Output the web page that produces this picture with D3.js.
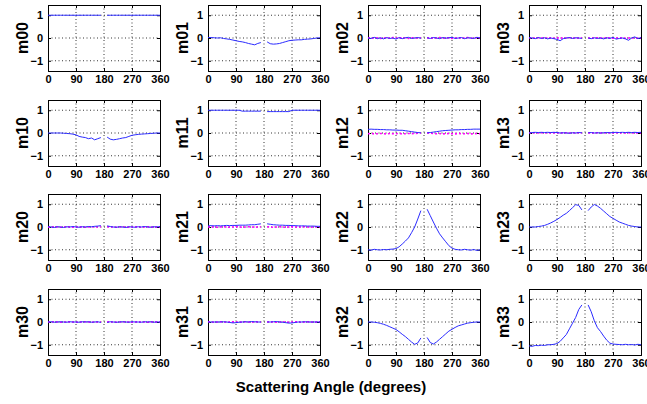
<!DOCTYPE html>
<html>
<head>
<meta charset="utf-8">
<script src="https://cdn.jsdelivr.net/npm/d3@7/dist/d3.min.js"></script>
<style>
  body { margin: 0; background: #fff; }
  svg { display: block; font-family: "Liberation Sans", Arial, Helvetica, sans-serif; }
</style>
</head>
<body>
<svg id="chart" width="647" height="404"></svg>
<script>
// scattering angle samples (deg); 180 is the gap
var angles = [0, 10, 20, 30, 40, 50, 60, 70, 80, 90, 100, 110, 120, 130, 140, 150, 160, 170,
  180, 190, 200, 210, 220, 230, 240, 250, 260, 270, 280, 290, 300, 310, 320, 330, 340, 350, 360];

var xTicks = [0, 90, 180, 270, 360];
var yTicks = [-1, 0, 1];
var yTickLabels = ['\u22121', '0', '1'];

var names = ['m00', 'm01', 'm02', 'm03', 'm10', 'm11', 'm12', 'm13',
  'm20', 'm21', 'm22', 'm23', 'm30', 'm31', 'm32', 'm33'];

// measured (blue)
var m00 = [1, 1, 1, 1, 1, 1, 1, 1, 1, 1, 1, 1, 1, 1, 1, 1, 1, 1, null, 1, 1, 1, 1, 1, 1, 1, 1, 1, 1, 1, 1, 1, 1, 1, 1, 1, 1];
var m01 = [0.02, 0.02, 0.01, 0.0, 0.01, -0.02, -0.04, -0.06, -0.09, -0.12, -0.15, -0.17, -0.2, -0.24, -0.27, -0.3, -0.24, -0.2,
  null, -0.17, -0.25, -0.27, -0.26, -0.24, -0.2, -0.16, -0.12, -0.1, -0.09, -0.08, -0.08, -0.06, -0.05, -0.04, -0.02, 0.0, 0.01];
var m02 = [0.0, -0.02, 0.03, -0.03, 0.01, -0.04, 0.02, -0.02, 0.0, -0.05, 0.02, -0.03, 0.01, 0.03, -0.02, 0.0, 0.02, -0.01,
  null, 0.01, -0.02, 0.02, 0.0, -0.03, 0.02, -0.01, 0.01, 0.03, -0.02, 0.0, 0.02, -0.03, 0.01, 0.0, -0.02, 0.03, 0.0];
var m03 = [0.02, 0.0, -0.03, 0.02, -0.02, 0.01, -0.04, 0.0, -0.03, -0.06, -0.12, -0.03, 0.0, 0.02, -0.02, 0.01, 0.0, -0.02,
  null, 0.0, -0.03, 0.01, -0.02, 0.0, -0.04, 0.01, -0.02, 0.03, -0.05, -0.02, 0.0, -0.04, -0.1, 0.0, 0.05, -0.03, 0.02];
var m10 = [0.0, 0.0, 0.0, 0.0, 0.0, -0.01, -0.02, -0.03, -0.05, -0.08, -0.15, -0.18, -0.2, -0.25, -0.22, -0.3, -0.25, -0.2,
  null, -0.18, -0.27, -0.3, -0.28, -0.25, -0.22, -0.2, -0.15, -0.1, -0.08, -0.06, -0.05, -0.04, -0.03, -0.02, -0.01, 0.0, 0.0];
var m11 = [1.0, 1.0, 1.0, 1.0, 1.0, 1.0, 1.0, 1.0, 1.0, 1.0, 1.0, 0.96, 0.96, 0.96, 0.96, 0.96, 0.96, 0.96,
  null, 0.94, 0.94, 0.94, 0.94, 0.94, 0.94, 0.94, 0.94, 1.0, 1.0, 1.0, 1.0, 1.0, 1.0, 1.0, 1.0, 1.0, 1.0];
var m12 = [0.16, 0.17, 0.16, 0.16, 0.15, 0.15, 0.14, 0.14, 0.13, 0.13, 0.12, 0.12, 0.1, 0.08, 0.06, 0.04, 0.02, 0.01,
  null, 0.01, 0.02, 0.04, 0.06, 0.08, 0.1, 0.11, 0.12, 0.13, 0.14, 0.14, 0.15, 0.15, 0.16, 0.16, 0.17, 0.17, 0.17];
var m13 = [0.0, 0.02, 0.03, 0.02, 0.03, 0.02, 0.03, 0.02, 0.03, 0.02, 0.0, 0.01, 0.0, -0.01, 0.01, 0.0, 0.02, 0.01,
  null, 0.01, 0.02, 0.0, 0.01, 0.0, 0.01, 0.02, 0.01, 0.02, 0.03, 0.02, 0.03, 0.02, 0.03, 0.02, 0.03, 0.02, 0.03];
var m20 = [0.02, 0.0, -0.02, 0.01, 0.0, -0.02, 0.01, 0.0, 0.02, 0.0, -0.01, 0.01, 0.0, 0.02, 0.01, 0.03, 0.04, 0.06,
  null, 0.05, 0.02, 0.0, -0.01, 0.01, 0.0, -0.02, 0.01, 0.0, -0.01, 0.01, 0.0, 0.02, 0.0, -0.01, 0.01, 0.0, 0.02];
var m21 = [0.05, 0.06, 0.05, 0.06, 0.05, 0.06, 0.07, 0.06, 0.07, 0.07, 0.08, 0.08, 0.08, 0.09, 0.1, 0.1, 0.12, 0.14,
  null, 0.14, 0.12, 0.1, 0.09, 0.08, 0.08, 0.07, 0.07, 0.06, 0.06, 0.05, 0.05, 0.05, 0.04, 0.04, 0.04, 0.03, 0.03];
var m22 = [-1.0, -1.02, -0.98, -1.0, -1.01, -0.99, -1.0, -0.98, -0.97, -0.95, -0.87, -0.75, -0.62, -0.48, -0.25, 0.0, 0.35, 0.72,
  null, 0.78, 0.5, 0.22, -0.05, -0.3, -0.48, -0.65, -0.82, -0.93, -0.98, -1.0, -1.01, -0.98, -1.0, -1.02, -0.99, -1.03, -1.0];
var m23 = [0.0, 0.0, 0.0, 0.02, 0.04, 0.07, 0.12, 0.18, 0.25, 0.33, 0.42, 0.52, 0.6, 0.72, 0.85, 0.98, 0.95, 0.75,
  null, 0.72, 0.88, 0.99, 0.92, 0.82, 0.7, 0.58, 0.46, 0.38, 0.3, 0.22, 0.17, 0.12, 0.07, 0.04, 0.02, 0.0, 0.0];
var m30 = [0.0, 0.01, -0.01, 0.0, 0.01, 0.0, -0.01, 0.01, 0.0, 0.0, -0.01, 0.01, 0.0, 0.01, -0.01, 0.0, 0.01, -0.02,
  null, -0.02, 0.01, 0.0, -0.01, 0.0, 0.01, 0.0, -0.01, 0.01, 0.0, 0.0, -0.01, 0.01, 0.0, 0.01, -0.01, 0.0, 0.0];
var m31 = [0.0, 0.0, 0.0, 0.0, 0.0, 0.01, 0.0, -0.02, -0.04, -0.03, -0.01, 0.0, 0.01, 0.0, 0.02, 0.01, 0.0, 0.0,
  null, 0.0, 0.0, 0.01, 0.02, 0.0, -0.01, -0.03, -0.05, -0.04, -0.02, 0.0, 0.0, 0.01, 0.0, 0.0, 0.0, 0.0, 0.0];
var m32 = [0.0, 0.0, -0.01, -0.03, -0.06, -0.1, -0.15, -0.21, -0.27, -0.33, -0.43, -0.54, -0.64, -0.76, -0.88, -0.98, -0.92, -0.7,
  null, -0.68, -0.9, -0.97, -0.88, -0.76, -0.64, -0.52, -0.4, -0.32, -0.24, -0.17, -0.13, -0.09, -0.05, -0.03, -0.01, 0.0, 0.0];
var m33 = [-1.05, -1.07, -1.03, -1.04, -1.02, -1.03, -1.0, -1.0, -0.98, -0.95, -0.85, -0.7, -0.55, -0.3, -0.05, 0.2, 0.55, 0.75,
  null, 0.75, 0.45, 0.05, -0.25, -0.42, -0.62, -0.8, -0.93, -0.97, -0.98, -0.99, -1.0, -0.98, -1.0, -0.99, -1.01, -0.98, -1.0];

// model (magenta dotted), only where the element should vanish
var z02 = [0.0, 0.02, -0.01, 0.01, -0.02, 0.0, 0.01, -0.01, 0.02, 0.0, -0.01, 0.01, 0.0, -0.02, 0.01, 0.0, -0.01, 0.01,
  null, 0.0, 0.01, -0.01, 0.0, 0.02, -0.01, 0.0, 0.01, -0.02, 0.0, 0.01, -0.01, 0.0, 0.02, -0.01, 0.0, 0.01, 0.0];
var z03 = [0.01, -0.01, 0.0, 0.01, 0.0, -0.01, 0.01, 0.0, -0.01, 0.0, 0.01, -0.01, 0.0, 0.01, 0.0, -0.01, 0.0, 0.01,
  null, 0.0, -0.01, 0.0, 0.01, 0.0, -0.01, 0.01, 0.0, -0.01, 0.0, 0.01, 0.0, -0.01, 0.0, 0.01, -0.01, 0.0, 0.01];
var z12 = [-0.03, -0.02, -0.04, -0.03, -0.02, -0.03, -0.04, -0.02, -0.03, -0.03, -0.02, -0.04, -0.03, -0.02, -0.03, -0.02, -0.01, 0.0,
  null, 0.0, -0.01, -0.02, -0.03, -0.02, -0.04, -0.03, -0.02, -0.03, -0.04, -0.02, -0.03, -0.03, -0.02, -0.04, -0.03, -0.02, -0.03];
var z13 = [0.01, 0.0, 0.01, 0.0, 0.01, 0.0, 0.01, 0.0, 0.01, 0.0, 0.01, 0.0, 0.01, 0.0, 0.01, 0.0, 0.01, 0.0,
  null, 0.0, 0.01, 0.0, 0.01, 0.0, 0.01, 0.0, 0.01, 0.0, 0.01, 0.0, 0.01, 0.0, 0.01, 0.0, 0.01, 0.0, 0.01];
var z20 = [0.0, -0.01, 0.01, 0.0, -0.01, 0.0, 0.01, 0.0, -0.01, 0.0, 0.01, 0.0, -0.01, 0.0, 0.01, 0.0, 0.0, 0.01,
  null, 0.01, 0.0, 0.0, -0.01, 0.0, 0.01, 0.0, -0.01, 0.0, 0.01, 0.0, -0.01, 0.0, 0.01, 0.0, -0.01, 0.0, 0.0];
var z21 = [0.0, 0.01, 0.0, -0.01, 0.0, 0.01, 0.0, -0.01, 0.0, 0.01, 0.0, -0.01, 0.0, 0.01, 0.0, -0.01, 0.0, 0.01,
  null, 0.01, 0.0, -0.01, 0.0, 0.01, 0.0, -0.01, 0.0, 0.01, 0.0, -0.01, 0.0, 0.01, 0.0, -0.01, 0.0, 0.01, 0.0];
var z30 = [0.0, 0.0, 0.01, 0.0, -0.01, 0.0, 0.0, 0.01, 0.0, -0.01, 0.0, 0.0, 0.01, 0.0, -0.01, 0.0, 0.0, 0.01,
  null, 0.01, 0.0, 0.0, -0.01, 0.0, 0.01, 0.0, 0.0, -0.01, 0.0, 0.01, 0.0, 0.0, -0.01, 0.0, 0.01, 0.0, 0.0];
var z31 = [0.01, 0.0, -0.01, 0.0, 0.01, 0.0, -0.01, 0.0, 0.01, 0.0, -0.01, 0.0, 0.01, 0.0, -0.01, 0.0, 0.01, 0.0,
  null, 0.0, 0.01, 0.0, -0.01, 0.0, 0.01, 0.0, -0.01, 0.0, 0.01, 0.0, -0.01, 0.0, 0.01, 0.0, -0.01, 0.0, 0.01];

var measured = {
  m00: m00, m01: m01, m02: m02, m03: m03, m10: m10, m11: m11, m12: m12, m13: m13,
  m20: m20, m21: m21, m22: m22, m23: m23, m30: m30, m31: m31, m32: m32, m33: m33
};
var model = { m02: z02, m03: z03, m12: z12, m13: z13, m20: z20, m21: z21, m30: z30, m31: z31 };

var svg = d3.select('#chart');

var colLeft = [48, 208, 368, 529];
var rowTop = [5, 100, 194, 289];
var panelW = 112;
var panelH = 66;

names.forEach(function (name, i) {
  var left = colLeft[i % 4];
  var top = rowTop[Math.floor(i / 4)];

  var x = d3.scaleLinear().domain([0, 360]).range([left, left + panelW]);
  var y = d3.scaleLinear().domain([-1.45, 1.45]).range([top + panelH, top]);

  var g = svg.append('g').attr('class', 'panel');

  // dotted grid
  g.selectAll('.vgrid')
    .data(xTicks.slice(1, -1))
    .enter().append('line')
    .attr('x1', function (d) { return x(d); })
    .attr('x2', function (d) { return x(d); })
    .attr('y1', top)
    .attr('y2', top + panelH)
    .attr('stroke', '#000')
    .attr('stroke-width', 0.8)
    .attr('stroke-dasharray', '1,2.5');
  g.selectAll('.hgrid')
    .data(yTicks)
    .enter().append('line')
    .attr('x1', left)
    .attr('x2', left + panelW)
    .attr('y1', function (d) { return y(d); })
    .attr('y2', function (d) { return y(d); })
    .attr('stroke', '#000')
    .attr('stroke-width', 0.8)
    .attr('stroke-dasharray', '1,2.5');

  // axes with inward ticks, box on
  var xb = d3.axisBottom(x).tickValues(xTicks).tickSize(-3).tickPadding(4).tickFormat(d3.format('d'));
  var xt = d3.axisTop(x).tickValues(xTicks).tickSize(-3).tickFormat('');
  var yl = d3.axisLeft(y).tickValues(yTicks).tickSize(-3).tickPadding(5)
    .tickFormat(function (d, k) { return yTickLabels[k]; });
  var yr = d3.axisRight(y).tickValues(yTicks).tickSize(-3).tickFormat('');

  [[xb, 'translate(0,' + (top + panelH) + ')'], [xt, 'translate(0,' + top + ')'],
   [yl, 'translate(' + left + ',0)'], [yr, 'translate(' + (left + panelW) + ',0)']].forEach(function (a) {
    var ax = g.append('g').attr('transform', a[1]).call(a[0]);
    ax.select('.domain').attr('stroke', '#000').attr('stroke-width', 1);
    ax.selectAll('.tick line').attr('stroke', '#000');
    ax.selectAll('.tick text')
      .attr('fill', '#000')
      .style('font-size', '11px')
      .style('font-weight', 'bold')
      .style('font-family', '"Liberation Sans", Arial, sans-serif');
  });

  var line = d3.line()
    .defined(function (d) { return d[1] !== null; })
    .x(function (d) { return x(d[0]); })
    .y(function (d) { return y(d[1]); });

  if (model[name]) {
    g.append('path')
      .datum(d3.zip(angles, model[name]))
      .attr('fill', 'none')
      .attr('stroke', '#ff00ff')
      .attr('stroke-width', 1.6)
      .attr('stroke-dasharray', '2,2')
      .attr('d', line);
  }

  g.append('path')
    .datum(d3.zip(angles, measured[name]))
    .attr('fill', 'none')
    .attr('stroke', '#2b2bff')
    .attr('stroke-width', 1)
    .attr('d', line);

  svg.append('text')
    .attr('transform', 'translate(' + (left - 20) + ',' + (top + panelH / 2) + ') rotate(-90)')
    .attr('text-anchor', 'middle')
    .style('font-size', '16px')
    .style('font-weight', 'bold')
    .text(name);
});

svg.append('text')
  .attr('x', 331)
  .attr('y', 392)
  .attr('text-anchor', 'middle')
  .style('font-size', '15px')
  .style('font-weight', 'bold')
  .text('Scattering Angle (degrees)');
</script>
</body>
</html>
